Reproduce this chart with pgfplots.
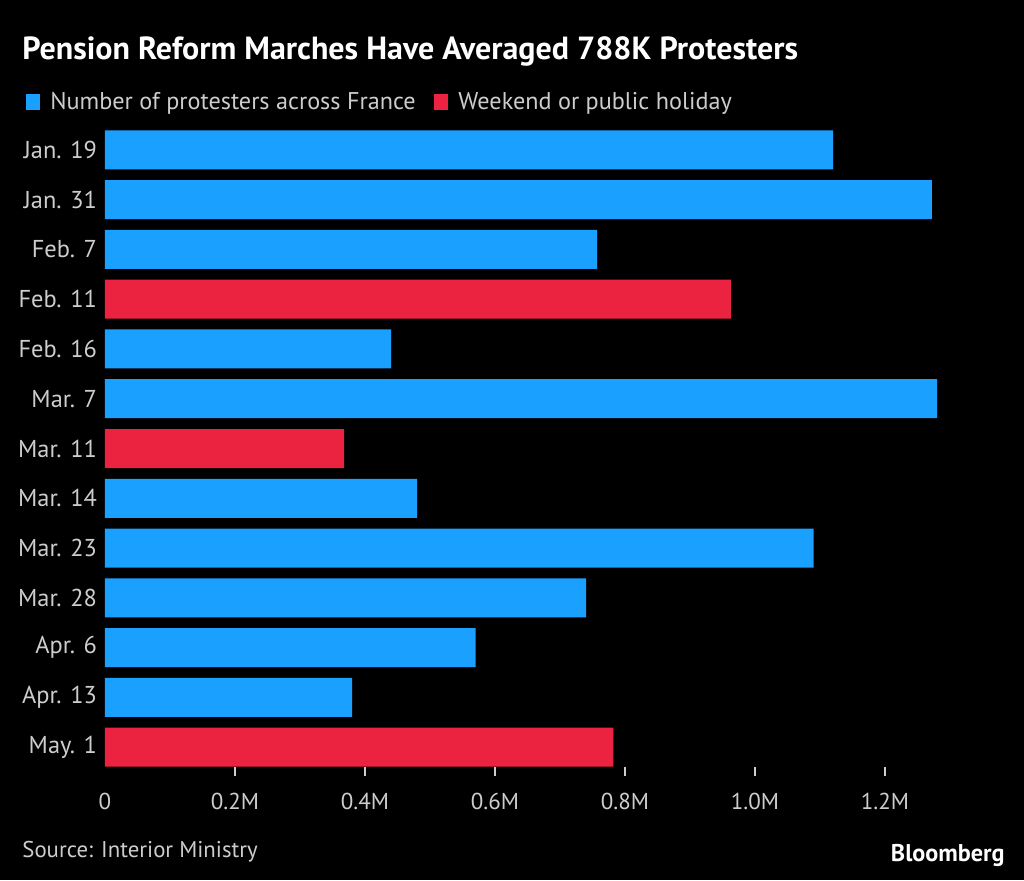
\documentclass[border=0pt]{standalone}
\usepackage{pgfplots}
\pgfplotsset{compat=1.18}
\usepackage{fontspec}
\setmainfont{PT Sans}
\definecolor{bblue}{RGB}{26,160,255}
\definecolor{bred}{RGB}{236,35,64}
\definecolor{lgray}{RGB}{205,205,205}
\begin{document}
\begin{tikzpicture}[x=1pt,y=1pt]
% background, 1px = 0.5pt
\fill[black] (0,0) rectangle (512,440);
\node[anchor=base west,text=white,font=\fontsize{16}{18}\selectfont\bfseries,inner sep=0pt] at (11,410) {Pension Reform Marches Have Averaged 788K Protesters};
\fill[bblue] (13,385) rectangle (20,393);
\node[anchor=base west,text=lgray,font=\fontsize{12.1}{14}\selectfont,inner sep=0pt] at (25,385) {Number of protesters across France};
\fill[bred] (217,385) rectangle (224,393);
\node[anchor=base west,text=lgray,font=\fontsize{12.1}{14}\selectfont,inner sep=0pt] at (229,385) {Weekend or public holiday};
\begin{axis}[
    at={(52.5pt,56.5pt)}, anchor=south west,
    scale only axis,
    width=448.5pt, height=318.5pt,
    xbar, bar width=19.5pt, bar shift=0pt,
    xmin=0, xmax=1.38,
    ymin=-0.4, ymax=12.4,
    y dir=reverse,
    axis line style={draw=none},
    ytick={0,...,12},
    yticklabels={Jan. 19,Jan. 31,Feb. 7,Feb. 11,Feb. 16,Mar. 7,Mar. 11,Mar. 14,Mar. 23,Mar. 28,Apr. 6,Apr. 13,May. 1},
    y tick label style={text=lgray,font=\fontsize{12.2}{14}\selectfont,xshift=4pt},
    ytick style={draw=none},
    xtick pos=bottom,
    xtick={0.2,0.4,0.6,0.8,1.0,1.2},
    xticklabels={0.2M,0.4M,0.6M,0.8M,1.0M,1.2M},
    extra x ticks={0}, extra x tick labels={0},
    extra x tick style={major tick length=0pt,xtick pos=bottom,
        tick label style={yshift=-4.5pt}},
    x tick label style={text=lgray,font=\fontsize{11.5}{13}\selectfont,yshift=-5pt},
    xtick style={draw=lgray,line width=0.7pt},
    tick align=outside, major tick length=4.5pt,
    /pgf/number format/assume math mode=true,
]
\addplot[draw=none,fill=bblue] coordinates {
    (1.12,0) (1.272,1) (0.757,2) (0.44,4) (1.28,5) (0.48,7) (1.09,8) (0.74,9) (0.57,10) (0.38,11)
};
\addplot[draw=none,fill=bred] coordinates {
    (0.963,3) (0.368,6) (0.782,12)
};
\end{axis}
\node[anchor=base west,text=lgray,font=\fontsize{11.4}{13}\selectfont,inner sep=0pt] at (11,11.5) {Source: Interior Ministry};
\node[anchor=base east,text=white,font=\fontsize{12.1}{14}\selectfont\bfseries,inner sep=0pt] at (502.5,9.5) {Bloomberg};
\end{tikzpicture}
\end{document}
